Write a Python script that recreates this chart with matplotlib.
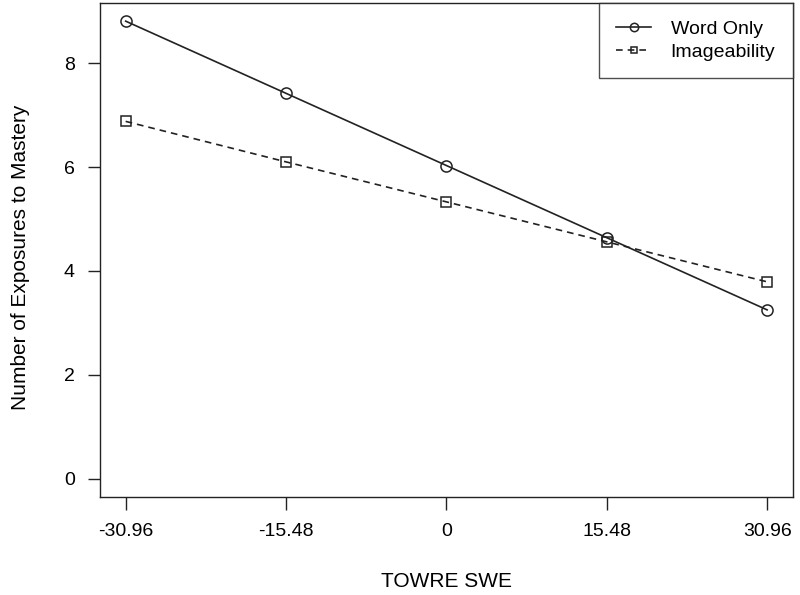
import matplotlib
matplotlib.use("Agg")
import matplotlib.pyplot as plt

plt.rcParams['font.family'] = ['Liberation Sans', 'DejaVu Sans']

# TOWRE SWE (centred) and predicted exposures to mastery
x_vals = [-30.96, -15.48, 0, 15.48, 30.96]
x_labels = ["-30.96", "-15.48", "0", "15.48", "30.96"]
word_only = [8.81, 7.42, 6.03, 4.64, 3.25]
imageability = [6.88, 6.10, 5.33, 4.56, 3.79]
y_ticks = [0, 2, 4, 6, 8]

ink = "#222222"
fs = 14

fig = plt.figure(figsize=(8, 5.95), dpi=100)
ax = fig.add_axes([0.125, 0.165, 0.866, 0.830])

ax.plot(x_vals, word_only, '-', color=ink, lw=1.2, marker='o', ms=8,
        mfc='none', mec=ink, mew=1.1, label="Word Only")
ax.plot(x_vals, imageability, '--', color=ink, lw=1.2, marker='s', ms=6.5,
        mfc='none', mec=ink, mew=1.1, dashes=(4, 3), label="Imageability")

# R-style 4% padding
ax.set_xlim(-30.96 - 0.04 * 61.92, 30.96 + 0.04 * 61.92)
ax.set_ylim(-0.35, 9.16)

ax.set_xticks(x_vals)
ax.set_xticklabels(x_labels)
ax.set_yticks(y_ticks)
ax.tick_params(direction='out', length=9, width=1, colors=ink,
               labelsize=fs, labelcolor='black')
ax.tick_params(axis='x', pad=10)
ax.tick_params(axis='y', pad=9)
for sp in ax.spines.values():
    sp.set_color(ink)
    sp.set_linewidth(1)

ax.set_xlabel("TOWRE SWE", fontsize=15, va='center')
ax.xaxis.set_label_coords(0.5, -0.172)
ax.set_ylabel("Number of Exposures to Mastery", fontsize=15, va='center')
ax.yaxis.set_label_coords(-0.1154, 0.484)

leg = ax.legend(loc='upper right', fontsize=fs, frameon=True, fancybox=False,
                borderaxespad=0, handlelength=1.8, borderpad=0.9,
                labelspacing=0.25, handletextpad=1.0, markerscale=0.75)
leg.get_frame().set_edgecolor(ink)
leg.get_frame().set_linewidth(1)

fig.savefig("out.png", dpi=100)
